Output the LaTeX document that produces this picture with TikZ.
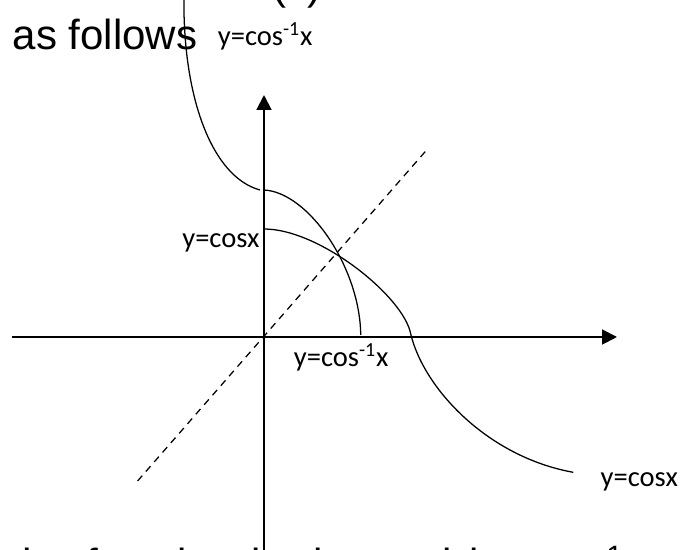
\documentclass[tikz,border=0pt]{standalone}
\usepackage{fontspec}
\setmainfont{Carlito}
\newfontfamily\arialfont{Liberation Sans}
\usetikzlibrary{arrows.meta}

\begin{document}
\begin{tikzpicture}[line width=0.9pt,>={Triangle[length=10.5pt,width=10.5pt]},
  lbl/.style={inner sep=0pt,anchor=base west,font=\fontsize{20.3}{24}\selectfont},
  txt/.style={inner sep=0pt,anchor=base west,font=\arialfont\fontsize{29.9}{36}\selectfont}]
  \useasboundingbox (-6.6,-5.325) rectangle (10.425,8.425);
  \clip (-6.6,-5.325) rectangle (10.425,8.425);
  % text lines cut by the page
  \node[txt] (prevline) at (0.2,8.425){(x)};
  \node[txt] (follows) at (-6.3,7.175){as follows};
  \node[txt] (nextline) at (-6.35,-6.05){\spaceskip=0.42em the function is denoted by cos\textsuperscript{-1}};
  % axes
  \coordinate (xl) at (-6.3,0); \coordinate (xr) at (8.825,0);
  \coordinate (yb) at (0,-5.4); \coordinate (yt) at (0,6.05);
  \draw[->,line width=1.4pt] (xl)--(xr);
  \draw[->,line width=1.4pt] (yb)--(yt);
  % y=x
  \coordinate (dl) at (-3.16,-3.6); \coordinate (dr) at (4.07,4.68);
  \draw[dash pattern=on 5pt off 4pt] (dl)--(dr);
  % y=cos^-1 x
  \draw (-2.0,8.6) .. controls (-2.05,6.0) and (-1.3,4.0) .. (-0.1,3.675);
  \draw (0,3.675) .. controls (1.1,3.62) and (2.4,1.75) .. (2.418,0.05);
  % y=cos x
  \draw (0,2.7) .. controls (1.4,2.7) and (3.5,1.0) .. (3.668,0.075)
    .. controls (4.0,-1.3) and (5.6,-3.0) .. (7.733,-3.383);
  % labels
  \node[lbl] (acosTop) at (-1.1675,7.275){y=cos\textsuperscript{-1}x};
  \node[lbl] (cosLeft) at (-2.0575,2.225){y=cosx};
  \node[lbl] (acosBot) at (0.7325,-0.75){y=cos\textsuperscript{-1}x};
  \node[lbl] (cosRight) at (8.4,-3.7425){y=cosx};
\end{tikzpicture}
\end{document}
